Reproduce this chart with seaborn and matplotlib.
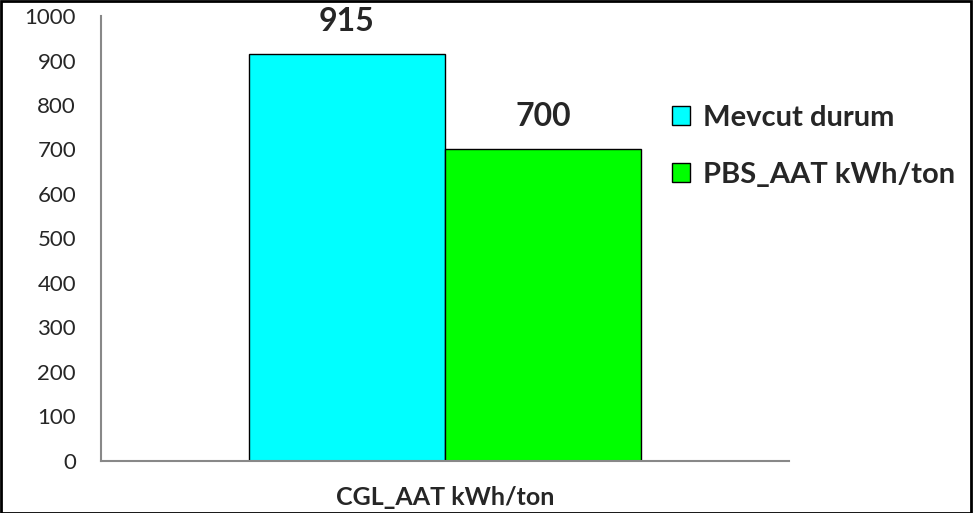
import matplotlib
matplotlib.use("Agg")
import matplotlib.pyplot as plt
import pandas as pd
import seaborn as sns
from matplotlib.patches import Rectangle

categories = ["CGL_AAT kWh/ton"]
series = ["Mevcut durum", "PBS_AAT kWh/ton"]
values = [915, 700]
colors = ["#00FFFF", "#00FF00"]
y_ticks = list(range(0, 1001, 100))

df = pd.DataFrame({
    "category": categories * len(series),
    "series": series,
    "value": values,
})

sns.set_style("white")
plt.rcParams["font.family"] = ["Lato", "DejaVu Sans"]

fig = plt.figure(figsize=(9.75, 5.13), dpi=100)
ax = fig.add_axes([0.1036, 0.1014, 0.8092 - 0.1036, 0.9688 - 0.1014])

sns.barplot(data=df, x="category", y="value", hue="series", palette=colors,
            width=0.57, edgecolor="black", linewidth=1, saturation=1, ax=ax)

for container in ax.containers:
    ax.bar_label(container, fmt="%d", padding=13, fontsize=23, fontweight="bold")

ax.set_ylim(0, 1000)
ax.set_xlim(-0.5, 0.5)
ax.set_yticks(y_ticks)
ax.set_xlabel("")
ax.set_ylabel("")
ax.tick_params(axis="y", direction="out", length=6, color="#888888", labelsize=16, pad=12)
ax.set_xticks([0])
ax.set_xticklabels(categories, fontweight="bold", fontsize=18)
ax.tick_params(axis="x", which="major", length=0, pad=18)
ax.set_xticks([-0.5, 0.5], minor=True)
ax.tick_params(axis="x", which="minor", direction="out", length=7, color="#888888")

sns.despine(ax=ax)
for side in ["left", "bottom"]:
    ax.spines[side].set_color("#888888")
    ax.spines[side].set_linewidth(1.5)

leg = ax.legend(loc="upper left", bbox_to_anchor=(0.689, 0.795), bbox_transform=fig.transFigure,
                frameon=False, borderpad=0, borderaxespad=0,
                prop={"weight": "bold", "size": 21}, handlelength=0.62, handleheight=0.62,
                handletextpad=0.45, labelspacing=1.05)
for h in leg.legend_handles:
    h.set_edgecolor("black")
    h.set_linewidth(1)

fig.patches.append(Rectangle((0.001, 0.0), 0.995, 0.998, transform=fig.transFigure,
                             fill=False, edgecolor="black", linewidth=2))

fig.savefig("out.png", dpi=100)
